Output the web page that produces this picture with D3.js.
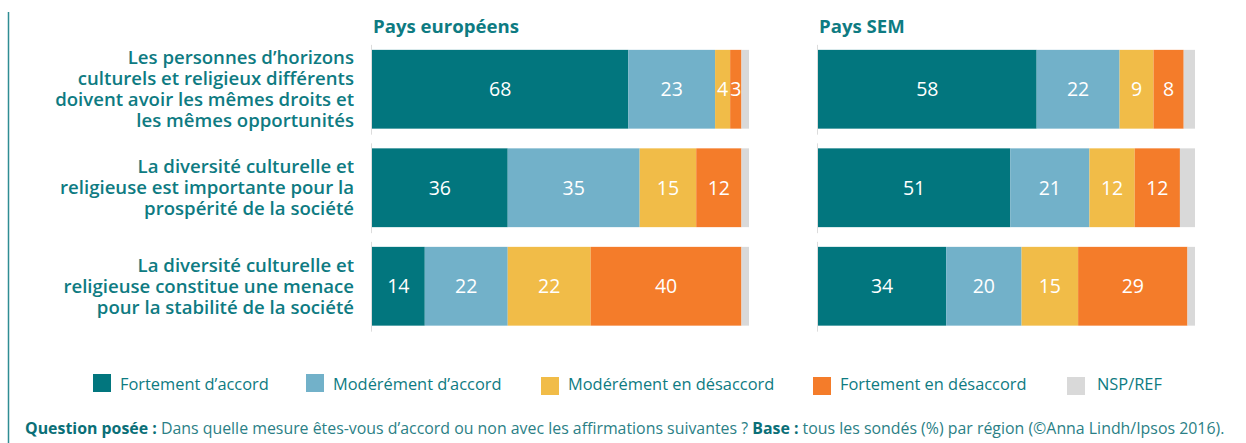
<html>
  <head>
    <meta charset="utf-8">
    <script src="https://cdnjs.cloudflare.com/ajax/libs/d3/7.8.5/d3.min.js"></script>
    <style>
      body { margin: 0; background: #fff; }
      svg { display: block; font-family: "Open Sans", sans-serif; }
    </style>
  </head>
  <body>
    <svg width="1246" height="443"></svg>
    <script>
      // données
      const statements = [
        ["Les personnes d’horizons", "culturels et religieux différents", "doivent avoir les mêmes droits et", "les mêmes opportunités"],
        ["La diversité culturelle et", "religieuse est importante pour la", "prospérité de la société"],
        ["La diversité culturelle et", "religieuse constitue une menace", "pour la stabilité de la société"]
      ];
      const categories = ["Fortement d’accord", "Modérément d’accord", "Modérément en désaccord", "Fortement en désaccord", "NSP/REF"];
      const colors = ["#02767e", "#72b1c9", "#f1bc48", "#f47c2a", "#d9d9d9"];
      const regions = ["Pays européens", "Pays SEM"];

      const europe = [
        [68, 23, 4, 3, 2],
        [36, 35, 15, 12, 2],
        [14, 22, 22, 40, 2]
      ];
      const sem = [
        [58, 22, 9, 8, 3],
        [51, 21, 12, 12, 4],
        [34, 20, 15, 29, 2]
      ];
      const panels = [europe, sem];

      const svg = d3.select("svg");
      const teal = "#0e7b82";

      // trait vertical à gauche
      svg.append("line")
        .attr("x1", 8.5).attr("x2", 8.5).attr("y1", 12).attr("y2", 443)
        .attr("stroke", "#2f8d93").attr("stroke-width", 1.5);

      const y = d3.scaleBand()
        .domain(d3.range(statements.length))
        .range([40, 335.5])
        .paddingInner(0.2)
        .paddingOuter(0.1);

      const xs = [
        d3.scaleLinear().domain([0, 100]).range([372, 749]),
        d3.scaleLinear().domain([0, 100]).range([818, 1195])
      ];

      // libellés des affirmations
      const lineH = 21;
      statements.forEach((lines, i) => {
        const cy = y(i) + y.bandwidth() / 2;
        const t = svg.append("text")
          .attr("text-anchor", "end")
          .attr("fill", teal)
          .attr("font-size", 18.6)
          .attr("font-weight", 600);
        lines.forEach((l, j) => {
          t.append("tspan")
            .attr("x", 354)
            .attr("y", cy - (lines.length - 1) * lineH / 2 + 6.5 + j * lineH)
            .text(l);
        });
      });

      panels.forEach((data, p) => {
        const x = xs[p];
        const g = svg.append("g");

        g.append("text")
          .attr("x", x(0) + 1).attr("y", 33)
          .attr("fill", teal)
          .attr("font-size", 18.6)
          .attr("font-weight", 700)
          .text(regions[p]);

        data.forEach((row, i) => {
          // petit axe gris
          g.append("line")
            .attr("x1", x(0) - 0.5).attr("x2", x(0) - 0.5)
            .attr("y1", y(i) - 5).attr("y2", y(i) + y.bandwidth() + 6)
            .attr("stroke", "#dcdcdc").attr("stroke-width", 1);

          let acc = 0;
          const segs = row.map((v, k) => {
            const s = { k, v, x0: acc, x1: acc + v };
            acc += v;
            return s;
          });

          const rg = g.append("g");
          rg.selectAll("rect")
            .data(segs)
            .join("rect")
            .attr("x", d => x(d.x0))
            .attr("y", y(i))
            .attr("width", d => x(d.x1) - x(d.x0))
            .attr("height", y.bandwidth())
            .attr("fill", d => colors[d.k]);

          rg.selectAll("text")
            .data(segs.filter(d => d.k < 4))
            .join("text")
            .attr("x", d => (x(d.x0) + x(d.x1)) / 2)
            .attr("y", y(i) + y.bandwidth() / 2 + 7)
            .attr("text-anchor", "middle")
            .attr("fill", "#fff")
            .attr("font-size", 19.5)
            .text(d => d.v);
        });
      });

      // légende
      const legendX = [93, 306, 541, 813, 1067];
      const legend = svg.append("g");
      categories.forEach((c, k) => {
        legend.append("rect")
          .attr("x", legendX[k]).attr("y", k < 2 ? 374 : 377)
          .attr("width", 18).attr("height", 18)
          .attr("fill", colors[k]);
        legend.append("text")
          .attr("x", legendX[k] + (k === 4 ? 30 : 27))
          .attr("y", 389.5)
          .attr("fill", teal)
          .attr("font-size", 16.4)
          .text(c);
      });

      // note de bas
      const note = svg.append("text")
        .attr("x", 25).attr("y", 434)
        .attr("font-size", 15.9)
        .attr("fill", "#2b7f86");
      note.append("tspan").attr("font-weight", 700).attr("fill", "#0a6f77").text("Question posée : ");
      note.append("tspan").text("Dans quelle mesure êtes-vous d’accord ou non avec les affirmations suivantes ? ");
      note.append("tspan").attr("font-weight", 700).attr("fill", "#0a6f77").text("Base : ");
      note.append("tspan").text("tous les sondés (%) par région (©Anna Lindh/Ipsos 2016).");
    </script>
  </body>
</html>
